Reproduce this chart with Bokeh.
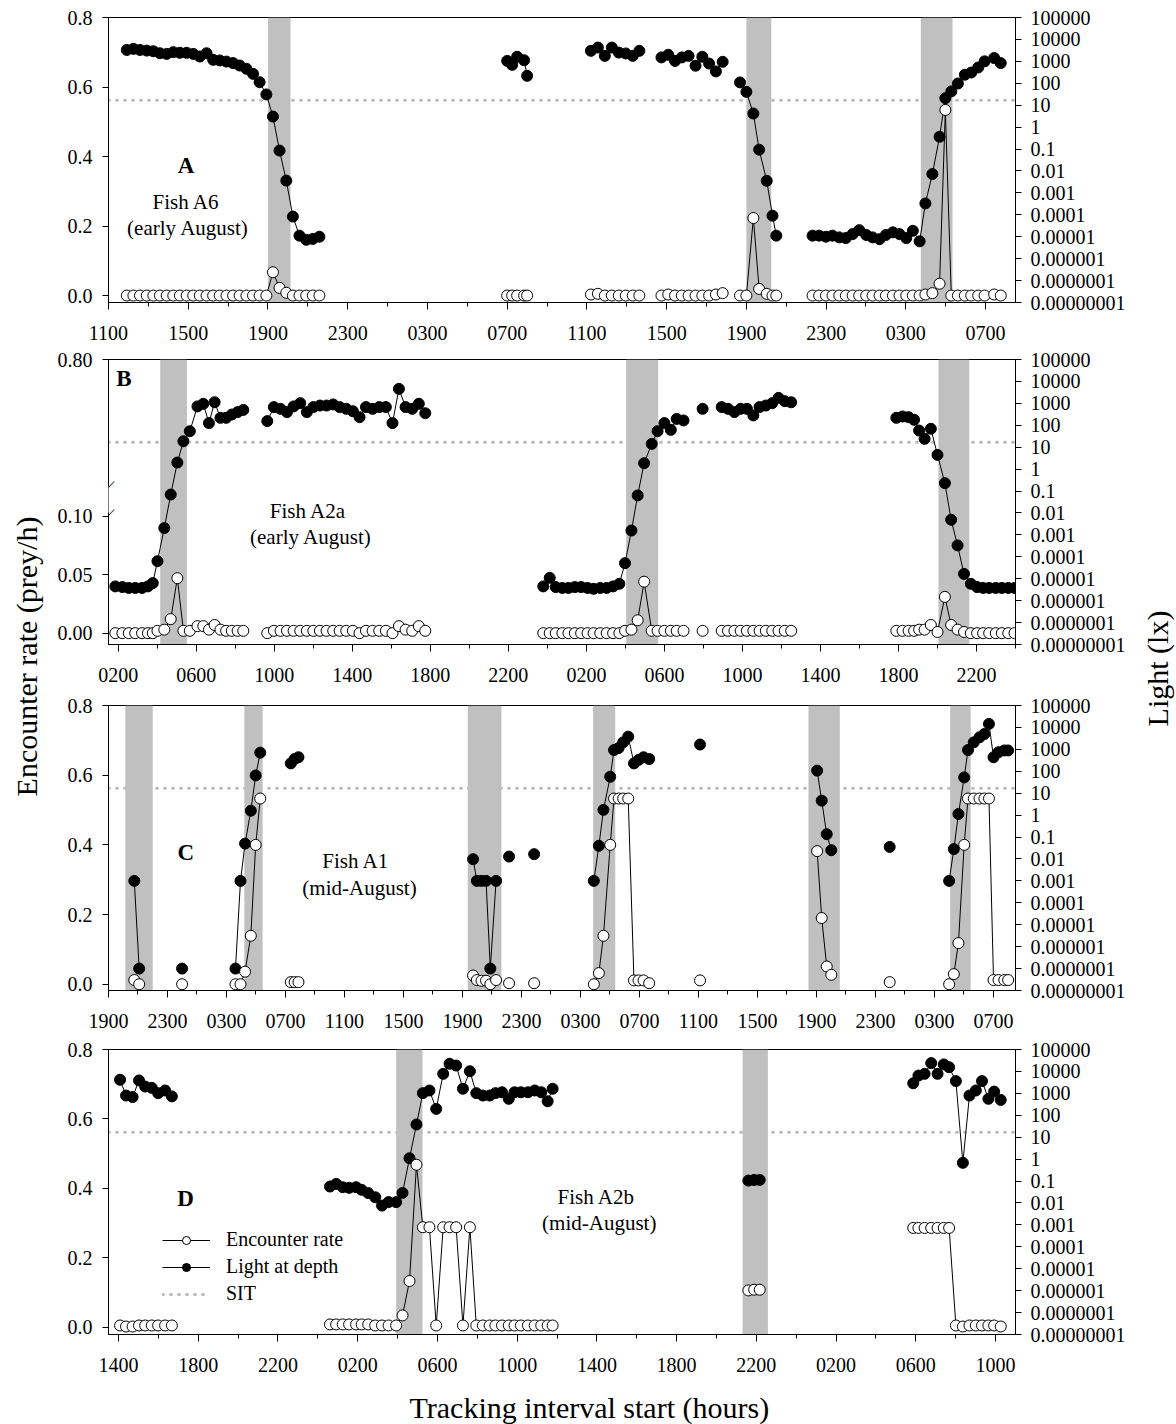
import math
from bokeh.plotting import figure
from bokeh.models import (Range1d, LogAxis, LogScale, FixedTicker, CustomJSTickFormatter,
                          Label, Legend, LegendItem)
from bokeh.layouts import column, row
from bokeh.embed import file_html
from bokeh.resources import INLINE

FONT = "Liberation Serif"

# ---------------------------------------------------------------- shared
SIT_LUX = 17.0
LIGHT_MIN, LIGHT_MAX = 1e-8, 1e5
LIGHT_TICKS = [1e-8, 1e-7, 1e-6, 1e-5, 1e-4, 1e-3, 1e-2, 1e-1, 1.0, 10.0, 100.0,
               1000.0, 10000.0, 100000.0]
ENC_TICKS = [0.0, 0.2, 0.4, 0.6, 0.8]
ENC_LABELS = ["0.0", "0.2", "0.4", "0.6", "0.8"]

# ---------------------------------------------------------------- panel A (x = hours after 11:00)
A_x_end = 45.5
A_tick_pos = [0, 4, 8, 12, 16, 20, 24, 28, 32, 36, 40, 44]
A_tick_lab = ["1100", "1500", "1900", "2300", "0300", "0700",
              "1100", "1500", "1900", "2300", "0300", "0700"]
A_minor = [2, 6, 10, 14, 18, 22, 26, 30, 34, 38, 42]
A_band_start = [8.0, 32.0, 40.75]
A_band_end = [9.13, 33.25, 42.34]
A_time = [
    [0.92, 1.25, 1.58, 1.92, 2.25, 2.58, 2.92, 3.25, 3.58, 3.92, 4.25, 4.58, 4.92, 5.25, 5.58,
     5.92, 6.25, 6.58, 6.92, 7.25, 7.58, 7.92, 8.25, 8.58, 8.92, 9.25, 9.58, 9.92, 10.25, 10.58],
    [20.0, 20.25, 20.5, 20.85, 21.0],
    [24.2, 24.55, 24.9, 25.25, 25.6, 25.95, 26.3, 26.63],
    [27.74, 28.08, 28.42, 28.76, 29.1, 29.45, 29.79, 30.13, 30.47, 30.81],
    [31.68, 32.0, 32.35, 32.64, 33.02, 33.31, 33.5],
    [35.32, 35.65, 35.99, 36.32, 36.66, 36.99, 37.33, 37.66, 38.01, 38.33, 38.68, 39.0, 39.35,
     39.68, 40.02, 40.35, 40.69, 40.98, 41.33, 41.69, 41.98, 42.28, 42.61, 42.96, 43.28, 43.63,
     43.95, 44.43, 44.76],
]
A_light_log10 = [
    [3.52, 3.57, 3.52, 3.49, 3.46, 3.37, 3.34, 3.42, 3.39, 3.39, 3.34, 3.22, 3.37, 3.07, 3.04,
     2.99, 2.92, 2.81, 2.66, 2.43, 2.05, 1.49, 0.48, -1.07, -2.44, -4.08, -4.95, -5.14, -5.10, -5.00],
    [3.02, 2.84, 3.21, 3.05, 2.34],
    [3.48, 3.63, 3.25, 3.63, 3.40, 3.36, 3.25, 3.48],
    [3.18, 3.30, 3.02, 3.18, 3.25, 2.80, 3.21, 2.90, 2.54, 2.98],
    [2.04, 1.61, 0.62, -1.03, -2.45, -4.04, -4.95],
    [-4.95, -4.95, -5.0, -4.95, -5.03, -5.06, -4.88, -4.70, -4.92, -5.03, -5.11, -4.92, -4.80,
     -4.88, -5.06, -4.73, -5.21, -3.48, -2.14, -0.44, 1.32, 1.63, 1.99, 2.39, 2.49, 2.72,
     3.0, 3.15, 2.92],
]
A_enc = [
    [0.0, 0.0, 0.0, 0.0, 0.0, 0.0, 0.0, 0.0, 0.0, 0.0, 0.0, 0.0, 0.0, 0.0, 0.0,
     0.0, 0.0, 0.0, 0.0, 0.0, 0.0, 0.0, 0.067, 0.022, 0.008, 0.0, 0.0, 0.0, 0.0, 0.0],
    [0.0, 0.0, 0.0, 0.0, 0.0],
    [0.003, 0.005, 0.0, 0.0, 0.0, 0.0, 0.0, 0.0],
    [0.0, 0.003, 0.0, 0.0, 0.0, 0.0, 0.0, 0.0, 0.003, 0.007],
    [0.0, 0.0, 0.223, 0.019, 0.005, 0.0, 0.0],
    [0.0, 0.0, 0.0, 0.0, 0.0, 0.0, 0.0, 0.0, 0.0, 0.0, 0.0, 0.0, 0.0, 0.0, 0.0, 0.0, 0.0,
     0.003, 0.007, 0.034, 0.534, 0.0, 0.0, 0.0, 0.0, 0.0, 0.0, 0.003, 0.0],
]

# ---------------------------------------------------------------- panel B (x = hours after 01:30)
B_x_end = 46.5
B_tick_pos = [0.5, 4.5, 8.5, 12.5, 16.5, 20.5, 24.5, 28.5, 32.5, 36.5, 40.5, 44.5]
B_tick_lab = ["0200", "0600", "1000", "1400", "1800", "2200",
              "0200", "0600", "1000", "1400", "1800", "2200"]
B_minor = [2.5, 6.5, 10.5, 14.5, 18.5, 22.5, 26.5, 30.5, 34.5, 38.5, 42.5, 46.5]
B_band_start = [2.65, 26.54, 42.55]
B_band_end = [4.02, 28.18, 44.13]
B_left_pos = [0.0, 0.05, 0.10, 0.234]
B_left_lab = ["0.00", "0.05", "0.10", "0.80"]
B_break = [0.102, 0.126]          # axis-break span on the encounter axis
B_time = [
    [0.35, 0.71, 1.04, 1.37, 1.72, 2.02, 2.27, 2.51, 2.86, 3.19, 3.53, 3.84, 4.17, 4.56, 4.86,
     5.15, 5.44, 5.74, 6.03, 6.32, 6.62, 6.91],
    [8.14, 8.48, 8.82, 9.15, 9.49, 9.83, 10.17, 10.50, 10.84, 11.18, 11.52, 11.85, 12.19, 12.53,
     12.87, 13.20, 13.54, 13.88, 14.22, 14.56, 14.89, 15.23, 15.57, 15.91, 16.24],
    [22.29, 22.62, 22.93, 23.27, 23.58, 23.91, 24.23, 24.56, 24.87, 25.21, 25.54, 25.87, 26.19,
     26.48, 26.81, 27.13, 27.46, 27.85, 28.15, 28.50, 28.83, 29.13, 29.48],
    [30.46],
    [31.44, 31.76, 32.09, 32.41, 32.73, 33.06, 33.38, 33.70, 34.03, 34.35, 34.67, 35.0],
    [40.39, 40.71, 41.02, 41.3, 41.56, 41.84, 42.16, 42.5, 42.88, 43.2, 43.53, 43.86, 44.21,
     44.53, 44.84, 45.15, 45.49, 45.80, 46.13, 46.45],
]
B_light_log10 = [
    [-5.35, -5.38, -5.42, -5.42, -5.42, -5.35, -5.20, -4.20, -2.69, -1.16, 0.30, 1.27, 1.73,
     2.86, 2.98, 2.10, 3.05, 2.34, 2.34, 2.49, 2.60, 2.70],
    [2.19, 2.83, 2.75, 2.60, 2.86, 3.01, 2.60, 2.83, 2.90, 2.90, 2.95, 2.83, 2.75, 2.64, 2.37,
     2.83, 2.75, 2.83, 2.83, 2.10, 3.66, 2.83, 2.75, 2.98, 2.55],
    [-5.35, -4.96, -5.38, -5.42, -5.42, -5.38, -5.38, -5.42, -5.46, -5.42, -5.42, -5.35, -5.23,
     -4.29, -2.80, -1.20, 0.27, 1.15, 1.73, 2.10, 1.79, 2.29, 2.22],
    [2.75],
    [2.83, 2.75, 2.60, 2.75, 2.75, 2.45, 2.83, 2.90, 3.01, 3.25, 3.10, 3.05],
    [2.34, 2.40, 2.37, 2.25, 1.76, 1.38, 1.84, 0.65, -0.64, -2.31, -3.48, -4.78, -5.23, -5.38,
     -5.42, -5.42, -5.42, -5.42, -5.42, -5.42],
]
B_enc = [
    [0.0, 0.0, 0.0, 0.0, 0.0, 0.0, 0.0, 0.002, 0.003, 0.012, 0.047, 0.002, 0.002, 0.006, 0.006,
     0.003, 0.007, 0.003, 0.002, 0.002, 0.002, 0.002],
    [0.0, 0.002, 0.002, 0.002, 0.002, 0.002, 0.002, 0.002, 0.002, 0.002, 0.002, 0.002, 0.002,
     0.002, 0.0, 0.002, 0.002, 0.002, 0.002, 0.0, 0.006, 0.003, 0.002, 0.006, 0.002],
    [0.0, 0.0, 0.0, 0.0, 0.0, 0.0, 0.0, 0.0, 0.0, 0.0, 0.0, 0.0, 0.0,
     0.002, 0.003, 0.011, 0.044, 0.002, 0.002, 0.002, 0.002, 0.002, 0.002],
    [0.002],
    [0.002, 0.002, 0.002, 0.002, 0.002, 0.002, 0.002, 0.002, 0.002, 0.002, 0.002, 0.002],
    [0.002, 0.002, 0.002, 0.002, 0.003, 0.003, 0.007, 0.001, 0.031, 0.007, 0.003, 0.001,
     0.0, 0.0, 0.0, 0.0, 0.0, 0.0, 0.0, 0.0],
]

# ---------------------------------------------------------------- panel C (x = hours after 19:00)
C_x_end = 61.5
C_tick_pos = [0, 4, 8, 12, 16, 20, 24, 28, 32, 36, 40, 44, 48, 52, 56, 60]
C_tick_lab = ["1900", "2300", "0300", "0700", "1100", "1500", "1900", "2300",
              "0300", "0700", "1100", "1500", "1900", "2300", "0300", "0700"]
C_minor = [2, 6, 10, 14, 18, 22, 26, 30, 34, 38, 42, 46, 50, 54, 58]
C_band_start = [1.14, 9.21, 24.36, 32.86, 47.46, 57.07]
C_band_end = [3.0, 10.45, 26.64, 34.36, 49.59, 58.46]
C_time = [
    [1.75, 2.08],
    [4.99],
    [8.61, 8.95, 9.26, 9.65, 9.98, 10.29],
    [12.36, 12.62, 12.88],
    [24.72, 24.98, 25.29, 25.6, 25.89, 26.28],
    [27.16],
    [28.86],
    [32.91, 33.25, 33.56, 34.02, 34.28, 34.59, 34.90, 35.24, 35.63, 35.94, 36.28, 36.66],
    [40.11],
    [48.05, 48.36, 48.70, 49.01],
    [52.97],
    [57.0, 57.32, 57.63, 58.02, 58.28, 58.67, 59.06, 59.39, 59.70, 60.01, 60.35, 60.74, 61.0],
]
C_light_log10 = [
    [-3.0, -7.0],
    [-7.0],
    [-7.0, -3.0, -1.30, 0.20, 1.81, 2.85],
    [2.36, 2.56, 2.64],
    [-2.01, -3.0, -3.0, -3.0, -7.0, -3.0],
    [-1.89],
    [-1.78],
    [-3.0, -1.40, 0.24, 1.75, 2.97, 3.06, 3.32, 3.58, 2.36, 2.52, 2.64, 2.56],
    [3.22],
    [2.03, 0.66, -0.87, -1.60],
    [-1.45],
    [-3.0, -1.55, 0.05, 1.72, 2.97, 3.32, 3.55, 3.70, 4.16, 2.64, 2.87, 2.95, 2.95],
]
C_enc = [
    [0.012, 0.0],
    [0.0],
    [0.0, 0.0, 0.036, 0.139, 0.40, 0.533],
    [0.006, 0.006, 0.006],
    [0.025, 0.012, 0.010, 0.010, 0.0, 0.012],
    [0.003],
    [0.003],
    [0.0, 0.032, 0.139, 0.40, 0.533, 0.533, 0.533, 0.533, 0.011, 0.011, 0.011, 0.003],
    [0.011],
    [0.382, 0.190, 0.051, 0.027],
    [0.006],
    [0.0, 0.029, 0.118, 0.40, 0.533, 0.533, 0.533, 0.533, 0.533, 0.012, 0.012, 0.012, 0.012],
]

# ---------------------------------------------------------------- panel D (x = hours after 13:30)
D_x_end = 45.5
D_tick_pos = [0.5, 4.5, 8.5, 12.5, 16.5, 20.5, 24.5, 28.5, 32.5, 36.5, 40.5, 44.5]
D_tick_lab = ["1400", "1800", "2200", "0200", "0600", "1000",
              "1400", "1800", "2200", "0200", "0600", "1000"]
D_minor = [2.5, 6.5, 10.5, 14.5, 18.5, 22.5, 26.5, 30.5, 34.5, 38.5, 42.5]
D_band_start = [14.43, 31.81]
D_band_end = [15.75, 33.08]
D_time = [
    [0.58, 0.88, 1.21, 1.53, 1.84, 2.17, 2.49, 2.84, 3.18],
    [11.11, 11.42, 11.75, 12.07, 12.42, 12.70, 13.03, 13.38, 13.72, 14.05, 14.43, 14.75, 15.10,
     15.45, 15.77, 16.10, 16.44, 16.79, 17.11, 17.44, 17.78, 18.13, 18.45, 18.78, 19.12, 19.41,
     19.74, 20.08, 20.37, 20.69, 21.04, 21.38, 21.71, 22.03, 22.28],
    [32.10, 32.39, 32.67],
    [40.37, 40.63, 40.94, 41.27, 41.59, 41.90, 42.17, 42.51, 42.86, 43.19, 43.51, 43.82, 44.14,
     44.43, 44.76],
]
D_light_log10 = [
    [3.62, 2.90, 2.83, 3.59, 3.31, 3.25, 3.01, 3.13, 2.86],
    [-1.25, -1.13, -1.28, -1.31, -1.28, -1.40, -1.55, -1.74, -2.12, -1.96, -1.96, -1.54, 0.04,
     1.58, 3.01, 3.13, 2.29, 3.89, 4.35, 4.27, 3.21, 4.01, 3.01, 2.90, 2.90, 3.01, 3.05, 2.75,
     3.05, 3.05, 3.05, 3.13, 3.05, 2.64, 3.21],
    [-0.98, -0.95, -0.95],
    [3.46, 3.81, 3.89, 4.38, 3.89, 4.32, 4.19, 3.56, -0.17, 2.90, 3.13, 3.56, 2.75, 3.08, 2.70],
]
D_enc = [
    [0.005, 0.002, 0.002, 0.005, 0.005, 0.005, 0.005, 0.005, 0.005],
    [0.008, 0.008, 0.008, 0.008, 0.008, 0.008, 0.008, 0.005, 0.005, 0.005, 0.005, 0.034, 0.133,
     0.468, 0.288, 0.288, 0.005, 0.288, 0.288, 0.288, 0.005, 0.288, 0.005, 0.005, 0.005, 0.005,
     0.005, 0.005, 0.005, 0.005, 0.005, 0.005, 0.005, 0.005, 0.005],
    [0.106, 0.108, 0.108],
    [0.286, 0.286, 0.286, 0.286, 0.286, 0.286, 0.286, 0.005, 0.002, 0.005, 0.005, 0.005, 0.005,
     0.005, 0.002],
]

# ---------------------------------------------------------------- geometry
FRAME_W, FRAME_H = 907, 285
BORDER_L, BORDER_R = 60, 121
SIDE_L, SIDE_R = 48, 40
TITLE_SIZE = "30px"

# ---------------------------------------------------------------- helpers
X_FMT_CODE = """
for (let i = 0; i < pos.length; i++) {
  if (Math.abs(pos[i] - tick) < 1e-6) { return lab[i]; }
}
return "";
"""
LIGHT_FMT_CODE = """
const e = Math.round(Math.log10(tick));
return e >= 0 ? Math.round(tick).toString() : tick.toFixed(-e);
"""


def style_axis(ax, tick_out, standoff):
    ax.axis_line_color = "black"
    ax.axis_line_width = 1
    ax.major_tick_line_color = "black"
    ax.major_tick_in = 0
    ax.major_tick_out = tick_out
    ax.minor_tick_line_color = "black"
    ax.minor_tick_in = 0
    ax.minor_tick_out = 4
    ax.major_label_text_font = FONT
    ax.major_label_text_font_size = "20px"
    ax.major_label_text_color = "black"
    ax.major_label_standoff = standoff


def build_panel(times, light_log10, enc, x_end, tick_pos, tick_lab, minor_pos,
                band_start, band_end, y_lo, y_hi, left_pos, left_lab,
                top_border, bottom_border):
    p = figure(frame_width=FRAME_W, frame_height=FRAME_H,
               min_border_left=BORDER_L, min_border_right=BORDER_R,
               min_border_top=top_border, min_border_bottom=bottom_border,
               x_range=Range1d(0, x_end), y_range=Range1d(y_lo, y_hi),
               extra_y_ranges={"light": Range1d(LIGHT_MIN, LIGHT_MAX)},
               extra_y_scales={"light": LogScale()},
               toolbar_location=None, output_backend="svg",
               background_fill_color="white", border_fill_color="white",
               outline_line_color="black", outline_line_width=1)
    p.xgrid.visible = False
    p.ygrid.visible = False

    xax = p.below[0]
    xax.ticker = FixedTicker(ticks=tick_pos, minor_ticks=minor_pos)
    xax.formatter = CustomJSTickFormatter(args=dict(pos=tick_pos, lab=tick_lab), code=X_FMT_CODE)
    style_axis(xax, 7, 16)

    lax = p.left[0]
    lax.ticker = FixedTicker(ticks=left_pos, minor_ticks=[])
    lax.formatter = CustomJSTickFormatter(args=dict(pos=left_pos, lab=left_lab), code=X_FMT_CODE)
    style_axis(lax, 6, 10)

    rax = LogAxis(y_range_name="light",
                  ticker=FixedTicker(ticks=LIGHT_TICKS, minor_ticks=[]),
                  formatter=CustomJSTickFormatter(code=LIGHT_FMT_CODE))
    style_axis(rax, 6, 9)
    p.add_layout(rax, "right")

    sit = p.line([0, x_end], [SIT_LUX, SIT_LUX], y_range_name="light",
                 line_color="#bdbdbd", line_width=3, line_dash="1 7", line_cap="round")
    p.quad(left=band_start, right=band_end, bottom=y_lo, top=y_hi,
           fill_color="#c0c0c0", line_color=None)

    lux = [[10 ** v for v in seg] for seg in light_log10]
    light_lines, enc_lines = [], []
    for t, lx, e in zip(times, lux, enc):
        light_lines.append(p.line(t, lx, y_range_name="light", line_color="black", line_width=1))
        enc_lines.append(p.line(t, e, line_color="black", line_width=1))
    all_t = [v for seg in times for v in seg]
    all_lux = [v for seg in lux for v in seg]
    all_enc = [v for seg in enc for v in seg]
    black = p.scatter(all_t, all_lux, y_range_name="light", marker="circle", size=11,
                      fill_color="black", line_color="black", line_width=1)
    white = p.scatter(all_t, all_enc, marker="circle", size=11,
                      fill_color="white", line_color="black", line_width=1)
    return p, dict(sit=sit, light_line=light_lines[0], enc_line=enc_lines[0],
                   black=black, white=white)


def add_text(p, x, y, text, size="21px", bold=False):
    p.add_layout(Label(x=x, y=y, text=text, text_font=FONT, text_font_size=size,
                       text_font_style="bold" if bold else "normal", text_color="black",
                       text_align="center", text_baseline="middle"))


# ---------------------------------------------------------------- panels
pA, _ = build_panel(A_time, A_light_log10, A_enc, A_x_end, A_tick_pos, A_tick_lab, A_minor,
                    A_band_start, A_band_end, -0.02, 0.8, ENC_TICKS, ENC_LABELS, 17, 48)
add_text(pA, 3.89, 0.374, "A", "23px", True)
add_text(pA, 3.89, 0.270, "Fish A6")
add_text(pA, 3.99, 0.193, "(early August)")

pB, _ = build_panel(B_time, B_light_log10, B_enc, B_x_end, B_tick_pos, B_tick_lab, B_minor,
                    B_band_start, B_band_end, -0.0097, 0.234, B_left_pos, B_left_lab, 9, 48)
add_text(pB, 0.79, 0.2177, "B", "23px", True)
add_text(pB, 10.23, 0.1048, "Fish A2a")
add_text(pB, 10.38, 0.082, "(early August)")
# axis break on the left axis: white cover over the axis line, then two slashes
pB.add_layout(Label(x=0, y=(B_break[0] + B_break[1]) / 2, text=" ", text_font=FONT,
                    text_font_size="24px", text_align="center", text_baseline="middle",
                    background_fill_color="white", border_line_color=None))
for yb in B_break:
    pB.add_layout(Label(x=0, y=yb, text="\u2014", text_font=FONT, text_font_size="14px",
                        text_align="center", text_baseline="middle", angle=0.8,
                        text_color="black"))

pC, _ = build_panel(C_time, C_light_log10, C_enc, C_x_end, C_tick_pos, C_tick_lab, C_minor,
                    C_band_start, C_band_end, -0.018, 0.8, ENC_TICKS, ENC_LABELS, 13, 48)
add_text(pC, 5.24, 0.379, "C", "23px", True)
add_text(pC, 16.77, 0.355, "Fish A1")
add_text(pC, 17.02, 0.277, "(mid-August)")

pD, rD = build_panel(D_time, D_light_log10, D_enc, D_x_end, D_tick_pos, D_tick_lab, D_minor,
                     D_band_start, D_band_end, -0.021, 0.8, ENC_TICKS, ENC_LABELS, 11, 51)
add_text(pD, 3.86, 0.370, "D", "23px", True)
add_text(pD, 24.47, 0.374, "Fish A2b")
add_text(pD, 24.62, 0.299, "(mid-August)")
legend = Legend(items=[LegendItem(label="Encounter rate", renderers=[rD["enc_line"], rD["white"]]),
                       LegendItem(label="Light at depth", renderers=[rD["light_line"], rD["black"]]),
                       LegendItem(label="SIT", renderers=[rD["sit"]])],
                location=(54, 29), orientation="vertical",
                label_text_font=FONT, label_text_font_size="20px", label_text_color="black",
                glyph_width=48, glyph_height=20, label_height=20, label_standoff=16,
                spacing=4, padding=0, margin=0, border_line_color=None,
                background_fill_alpha=0)
pD.add_layout(legend)


# ---------------------------------------------------------------- titles
def title_fig(w, h, x, y, text, angle):
    f = figure(width=w, height=h, x_range=Range1d(0, w), y_range=Range1d(0, h),
               toolbar_location=None, output_backend="svg", min_border=0,
               x_axis_type=None, y_axis_type=None, outline_line_color=None,
               background_fill_color="white", border_fill_color="white")
    f.grid.visible = False
    f.add_layout(Label(x=x, y=y, text=text, angle=angle, text_font=FONT,
                       text_font_size=TITLE_SIZE, text_color="black",
                       text_align="center", text_baseline="middle"))
    return f


left_title = title_fig(SIDE_L, 1424, 26, 1424 - 656, "Encounter rate (prey/h)", math.pi / 2)
right_title = title_fig(SIDE_R, 1424, 21, 1424 - 668, "Light (lx)", math.pi / 2)

# bottom title shares panel D's hour axis geometry
bottom_title = figure(frame_width=FRAME_W, frame_height=39,
                      min_border_left=BORDER_L, min_border_right=BORDER_R,
                      min_border_top=0, min_border_bottom=0,
                      x_range=Range1d(0, D_x_end), y_range=Range1d(0, 39),
                      toolbar_location=None, output_backend="svg",
                      x_axis_type=None, y_axis_type=None, outline_line_color=None,
                      background_fill_color="white", border_fill_color="white")
bottom_title.grid.visible = False
bottom_title.add_layout(Label(x=24.12, y=17, text="Tracking interval start (hours)",
                              text_font=FONT, text_font_size=TITLE_SIZE, text_color="black",
                              text_align="center", text_baseline="middle"))

layout = row(left_title, column(pA, pB, pC, pD, bottom_title), right_title)

open("out.html", "w").write(file_html(layout, INLINE))
